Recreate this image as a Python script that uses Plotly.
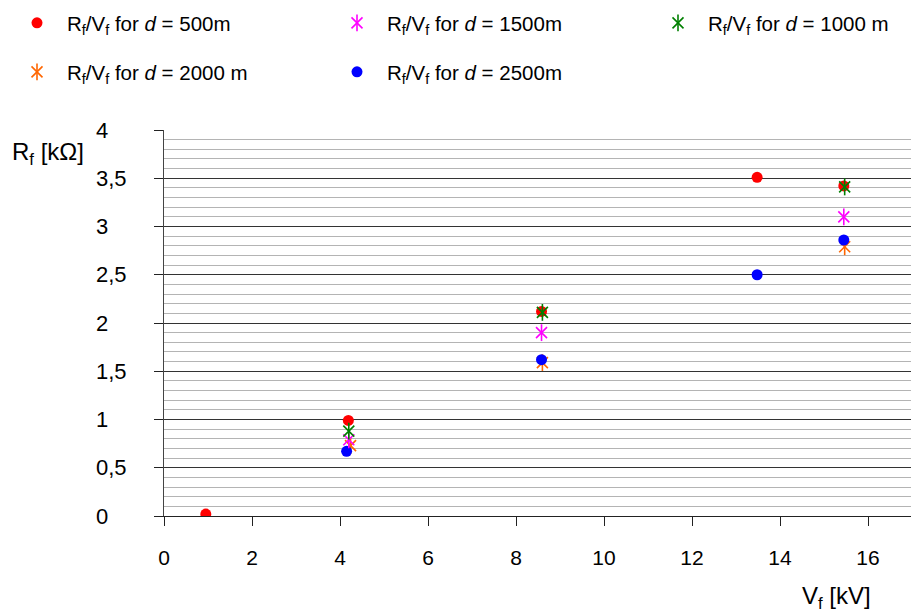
import plotly.graph_objects as go

# ---- data ----
vf_500 = [0.95, 4.19, 8.58, 13.48, 15.45]
rf_500 = [0.02, 0.99, 2.12, 3.51, 3.42]
vf_1500 = [4.2, 8.58, 15.45]
rf_1500 = [0.79, 1.90, 3.10]
vf_1000 = [4.2, 8.6, 15.47]
rf_1000 = [0.88, 2.11, 3.41]
vf_2000 = [4.24, 8.6, 15.47]
rf_2000 = [0.73, 1.59, 2.79]
vf_2500 = [4.15, 8.58, 13.48, 15.45]
rf_2500 = [0.67, 1.62, 2.50, 2.86]

y_tick_vals = [0, 0.5, 1, 1.5, 2, 2.5, 3, 3.5, 4]
y_tick_text = ["0", "0,5", "1", "1,5", "2", "2,5", "3", "3,5", "4"]
x_tick_vals = [0, 2, 4, 6, 8, 10, 12, 14, 16]

FONT = "Liberation Sans, Arial, sans-serif"
W, H = 911, 613
ML, MR, MT, MB = 0, 0, 130, 97
PLOT_LEFT = 164
PX_PER_X = 44.0
PH = H - MT - MB

fig = go.Figure()


def circle(x, y, color, name, legend, yaxis="y"):
    fig.add_trace(go.Scatter(
        x=x, y=y, mode="markers", name=name, legend=legend,
        yaxis=yaxis,
        marker=dict(symbol="circle", size=11, color=color, line=dict(width=0)),
    ))


def star(x, y, color, name, legend, legend_bar, yaxis="y"):
    # six-armed asterisk = thin X + vertical bar, the bar's legend icon
    # sits in its own (text-less) legend exactly on top of the X icon
    fig.add_trace(go.Scatter(
        x=x, y=y, mode="markers", name=name, legend=legend, yaxis=yaxis,
        marker=dict(symbol="x-thin-open", size=11, color=color,
                    line=dict(width=1.6, color=color)),
    ))
    fig.add_trace(go.Scatter(
        x=x, y=y, mode="markers", name=" ", legend=legend_bar, yaxis=yaxis,
        hoverinfo="skip",
        marker=dict(symbol="line-ns-open", size=12, color=color,
                    line=dict(width=1.6, color=color)),
    ))


def lbl(d):
    return "R<sub>f</sub>/V<sub>f</sub> for <i>d</i> = " + d


circle(vf_500, rf_500, "#ff0000", lbl("500m"), "legend")
star(vf_2000, rf_2000, "#ff6600", lbl("2000 m"), "legend4", "legend6")
circle(vf_2500, rf_2500, "#0000ff", lbl("2500m"), "legend5")
star(vf_1500, rf_1500, "#ff00ff", lbl("1500m"), "legend2", "legend7")
star(vf_1000, rf_1000, "#008000", lbl("1000 m"), "legend3", "legend8", yaxis="y2")

x_max = (W - PLOT_LEFT) / PX_PER_X


def leg(px, py):
    return dict(
        orientation="h", x=px / W, xanchor="left",
        y=(H - MB - py) / PH, yanchor="middle",
        font=dict(size=20.5), bgcolor="rgba(0,0,0,0)", itemwidth=50,
        borderwidth=0, itemclick=False, itemdoubleclick=False,
    )


fig.update_layout(
    width=W, height=H,
    margin=dict(l=ML, r=MR, t=MT, b=MB, pad=0, autoexpand=False),
    paper_bgcolor="white", plot_bgcolor="white",
    font=dict(family=FONT, size=20, color="black"),
    showlegend=True,
    xaxis=dict(
        domain=[PLOT_LEFT / W, 1], range=[0, x_max], fixedrange=True,
        tickvals=x_tick_vals, ticks="outside", ticklen=9, tickwidth=1,
        tickcolor="#222", showgrid=False, zeroline=False,
        showline=True, linecolor="#222", linewidth=1,
        tickfont=dict(size=21), ticklabelstandoff=14,
    ),
    yaxis=dict(
        range=[0, 4], fixedrange=True,
        tickvals=y_tick_vals, ticks="outside", ticklen=9, tickwidth=1,
        tickcolor="#222", showticklabels=False,
        showgrid=True, gridcolor="#333", gridwidth=1,
        minor=dict(dtick=0.1, showgrid=True, gridcolor="#b4b4b4", gridwidth=1),
        zeroline=False, showline=True, linecolor="#444", linewidth=1,
    ),
    yaxis2=dict(
        range=[0, 4], fixedrange=True, overlaying="y", side="right",
        anchor="free", position=95 / W,
        tickvals=y_tick_vals, ticktext=y_tick_text, ticks="",
        showgrid=False, zeroline=False, showline=False,
        tickfont=dict(size=22),
    ),
    legend=leg(7, 23),
    legend2=leg(327, 23),
    legend3=leg(648, 23),
    legend4=leg(7, 72),
    legend5=leg(327, 72),
    legend6=leg(7, 72),
    legend7=leg(327, 23),
    legend8=leg(648, 23),
    annotations=[
        dict(text="R<sub>f</sub> [kΩ]", xref="paper", yref="paper",
             x=10 / W, xanchor="left",
             y=(H - MB - 153) / PH, yanchor="middle",
             showarrow=False, font=dict(size=24)),
        dict(text="V<sub>f</sub> [kV]", xref="paper", yref="paper",
             x=836 / W, xanchor="center",
             y=(H - MB - 597) / PH, yanchor="middle",
             showarrow=False, font=dict(size=24)),
    ],
)

fig.write_html(
    "out.html",
    config={"displayModeBar": False, "staticPlot": False},
    post_script="document.body.style.margin='0';document.body.style.padding='0';",
)
